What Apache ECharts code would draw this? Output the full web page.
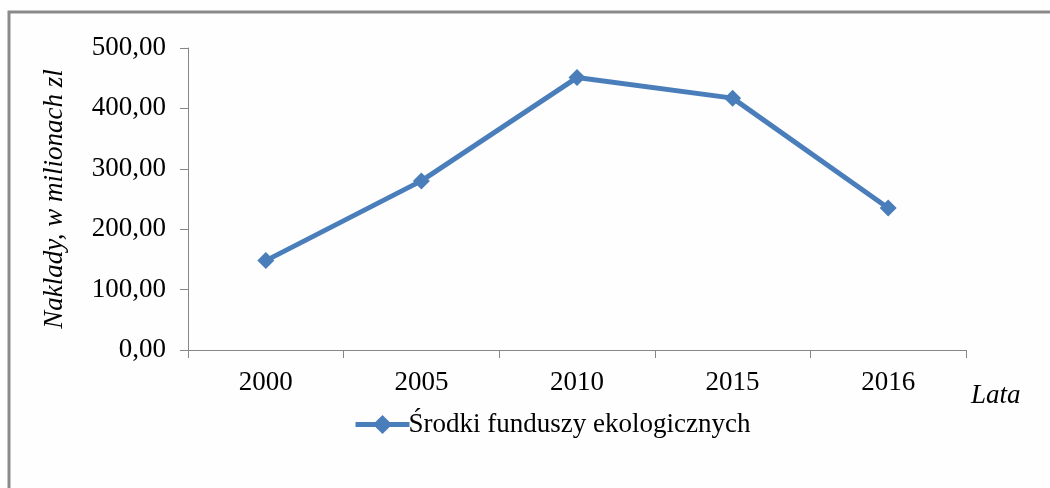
<!DOCTYPE html>
<html>
<head>
<meta charset="utf-8">
<script src="https://cdn.jsdelivr.net/npm/echarts@6/dist/echarts.min.js"></script>
<style>
html,body{margin:0;padding:0;background:#fff;}
#chart{width:1050px;height:488px;}
</style>
</head>
<body>
<div id="chart"></div>
<script>
const categories = ['2000', '2005', '2010', '2015', '2016'];
const values = [148, 280, 451, 417, 235];
const seriesName = 'Środki funduszy ekologicznych';
const yAxisTitle = 'Naklady, w milionach zl';
const xAxisTitle = 'Lata';

const FONT = '"Liberation Serif", "Times New Roman", serif';
const chart = echarts.init(document.getElementById('chart'));
chart.setOption({
  backgroundColor: '#fefefe',
  animation: false,
  graphic: [{
    type: 'rect',
    shape: { x: 9, y: 12, width: 1100, height: 600 },
    style: { fill: 'none', stroke: '#8a8a8a', lineWidth: 3 },
    silent: true
  }],
  grid: { left: 188, right: 84, top: 48, bottom: 138, containLabel: false },
  legend: {
    left: 348, top: 406,
    itemWidth: 54, itemHeight: 24, itemGap: 10,
    lineStyle: { width: 5, color: '#4A7EBB' },
    textStyle: { fontFamily: FONT, fontSize: 27, color: '#000', padding: [0, 0, 0, -6] },
    data: [{ name: seriesName }]
  },
  xAxis: {
    type: 'category',
    data: categories,
    boundaryGap: true,
    name: xAxisTitle,
    nameLocation: 'end',
    nameGap: 5,
    nameTextStyle: {
      fontFamily: FONT, fontStyle: 'italic', fontSize: 27, color: '#000',
      verticalAlign: 'top', lineHeight: 30, padding: [31, 0, 0, 0]
    },
    axisLine: { show: true, lineStyle: { color: '#868686', width: 1 } },
    axisTick: { show: true, length: 8, alignWithLabel: false, lineStyle: { color: '#868686' } },
    axisLabel: { fontFamily: FONT, fontSize: 27, color: '#000', margin: 19 },
    splitLine: { show: false }
  },
  yAxis: {
    type: 'value',
    min: 0, max: 500, interval: 100,
    name: yAxisTitle,
    nameLocation: 'middle',
    nameRotate: 90,
    nameGap: 120,
    nameTextStyle: { fontFamily: FONT, fontStyle: 'italic', fontSize: 27, color: '#000' },
    axisLine: { show: true, lineStyle: { color: '#868686', width: 1 } },
    axisTick: { show: true, length: 8, lineStyle: { color: '#868686' } },
    axisLabel: {
      fontFamily: FONT, fontSize: 27, color: '#000', margin: 22,
      formatter: v => v.toFixed(2).replace('.', ',')
    },
    splitLine: { show: false }
  },
  series: [{
    name: seriesName,
    type: 'line',
    data: values,
    symbol: 'diamond',
    symbolSize: 17,
    lineStyle: { color: '#4A7EBB', width: 5 },
    itemStyle: { color: '#4A7EBB' }
  }]
});
</script>
</body>
</html>
